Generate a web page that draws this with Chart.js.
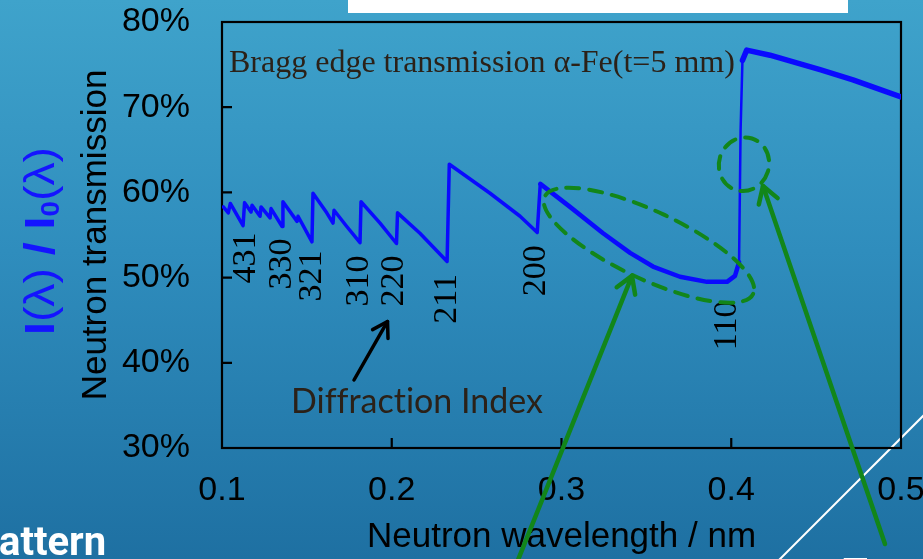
<!DOCTYPE html>
<html>
<head>
<meta charset="utf-8">
<title>Bragg edge transmission</title>
<script src="https://cdn.jsdelivr.net/npm/chart.js@4.4.1/dist/chart.umd.min.js"></script>
<style>
  html, body { margin: 0; padding: 0; }
  body {
    width: 923px; height: 559px; overflow: hidden;
    background: linear-gradient(to bottom, #3fa3cb 0%, #2f8dbd 45%, #1e70a2 100%);
  }
  #wrap { position: relative; width: 923px; height: 559px; }
</style>
</head>
<body>
<div id="wrap"><canvas id="braggChart"></canvas></div>
<script>
/* ── data ── */
const wavelength = [0.1008, 0.1037, 0.1049, 0.1124, 0.1133, 0.1171, 0.1177, 0.1224, 0.1230,
                    0.1283, 0.1289, 0.1354, 0.1359, 0.1442, 0.1448, 0.1530, 0.1536, 0.1617,
                    0.1654, 0.1660, 0.1735, 0.1813, 0.1819, 0.1931, 0.2028, 0.2034, 0.2166,
                    0.2326, 0.2339, 0.2579, 0.2756, 0.2857, 0.2875, 0.3050, 0.3245, 0.3404,
                    0.3539, 0.3698, 0.3857, 0.3975, 0.4022, 0.4046, 0.4055, 0.4066, 0.4091,
                    0.4228, 0.4523, 0.4717, 0.5000];
const transmission = [58.3, 57.6, 58.7, 56.1, 58.8, 57.7, 58.5, 57.2, 58.3,
                      57.0, 58.1, 56.0, 58.9, 56.6, 57.2, 54.2, 59.9, 57.6,
                      56.4, 57.9, 56.0, 54.1, 58.9, 56.4, 54.0, 57.6, 55.2,
                      51.9, 63.3, 59.9, 57.2, 55.3, 61.0, 58.3, 55.2, 52.9,
                      51.3, 50.1, 49.5, 49.5, 50.2, 51.8, 67.3, 75.5, 76.7,
                      76.1, 74.4, 73.2, 71.2];
const xTicks = [0.1, 0.2, 0.3, 0.4, 0.5];
const yTicks = [30, 40, 50, 60, 70, 80];
const millerIndex = ['431', '330', '321', '310', '220', '211', '200', '110'];

/* where each index label sits (nm, %) */
const LABEL_AT = [
  [0.1141, 52.3], [0.1353, 51.6], [0.1530, 50.2], [0.1807, 49.6],
  [0.2013, 49.6], [0.2325, 47.5], [0.2850, 50.8], [0.3975, 44.4],
];

const GREEN = '#12861a';
const INK   = '#2b2118';

function arrow(ctx, x0, y0, x1, y1, color, w, head) {
  ctx.save();
  ctx.strokeStyle = color; ctx.lineWidth = w; ctx.lineCap = 'round'; ctx.lineJoin = 'round';
  ctx.beginPath(); ctx.moveTo(x0, y0); ctx.lineTo(x1, y1); ctx.stroke();
  const a = Math.atan2(y1 - y0, x1 - x0);
  ctx.beginPath();
  ctx.moveTo(x1 - head * Math.cos(a - 0.55), y1 - head * Math.sin(a - 0.55));
  ctx.lineTo(x1, y1);
  ctx.lineTo(x1 - head * Math.cos(a + 0.55), y1 - head * Math.sin(a + 0.55));
  ctx.stroke();
  ctx.restore();
}

function dashedEllipse(ctx, cx, cy, rx, ry, rot) {
  ctx.save();
  ctx.strokeStyle = GREEN; ctx.lineWidth = 4; ctx.lineCap = 'round';
  ctx.setLineDash([13, 10]);
  ctx.beginPath(); ctx.ellipse(cx, cy, rx, ry, rot, 0, Math.PI * 2); ctx.stroke();
  ctx.restore();
}

/* ── slide decoration, frame and annotations ── */
const decor = {
  id: 'decor',
  beforeDraw(chart) {
    const ctx = chart.ctx;
    ctx.save();
    ctx.fillStyle = '#ffffff';
    ctx.fillRect(348, 0, 500, 13);
    ctx.strokeStyle = '#ffffff'; ctx.lineWidth = 2;
    ctx.beginPath(); ctx.moveTo(777, 562); ctx.lineTo(926, 413); ctx.stroke();

    ctx.fillStyle = '#ffffff';
    ctx.font = 'bold 40px Roboto';
    ctx.textBaseline = 'alphabetic'; ctx.textAlign = 'left';
    ctx.fillText('attern', -1, 555);
    ctx.fillText('Tx', 843, 587);

    // I(λ) / I0(λ), rotated, blue
    const parts = [['I', 'bold', 0], ['(λ)', 'normal', 0], [' / ', 'bold', 0],
                   ['I', 'bold', 0], ['0', 'bold', 1], ['(λ)', 'normal', 0]];
    const size = 42;
    let total = 0;
    parts.forEach(p => {
      ctx.font = `${p[1]} ${p[2] ? size * 0.6 : size}px "Liberation Sans"`;
      total += ctx.measureText(p[0]).width;
    });
    ctx.translate(42, 241);
    ctx.rotate(-Math.PI / 2);
    ctx.scale(188 / total, 1);
    ctx.fillStyle = '#1414ff';
    ctx.textBaseline = 'middle';
    let cx = -total / 2;
    parts.forEach(p => {
      ctx.font = `${p[1]} ${p[2] ? size * 0.6 : size}px "Liberation Sans"`;
      ctx.fillText(p[0], cx, p[2] ? 10 : 0);
      cx += ctx.measureText(p[0]).width;
    });
    ctx.restore();
  },
  beforeDatasetsDraw(chart) {
    const { ctx, chartArea: a, scales: { x, y } } = chart;
    ctx.save();
    ctx.strokeStyle = '#000'; ctx.lineWidth = 2.2;
    ctx.strokeRect(a.left, a.top, a.right - a.left, a.bottom - a.top);
    ctx.beginPath();
    yTicks.slice(1, -1).forEach(v => {
      const p = y.getPixelForValue(v);
      ctx.moveTo(a.left, p); ctx.lineTo(a.left + 10, p);
    });
    xTicks.slice(1, -1).forEach(v => {
      const p = x.getPixelForValue(v);
      ctx.moveTo(p, a.bottom); ctx.lineTo(p, a.bottom - 10);
    });
    ctx.stroke();
    ctx.restore();
  },
  afterDatasetsDraw(chart) {
    const { ctx, chartArea: a, scales: { x, y } } = chart;
    ctx.save();
    ctx.fillStyle = INK;
    ctx.font = '32px "Liberation Serif"';
    ctx.textBaseline = 'alphabetic'; ctx.textAlign = 'left';
    ctx.fillText('Bragg edge transmission α-Fe(t=5 mm)', a.left + 7, a.top + 50);

    ctx.fillStyle = '#000';
    ctx.font = '34px "Liberation Serif"';
    ctx.textAlign = 'center'; ctx.textBaseline = 'middle';
    millerIndex.forEach((t, i) => {
      ctx.save();
      ctx.translate(x.getPixelForValue(LABEL_AT[i][0]), y.getPixelForValue(LABEL_AT[i][1]));
      ctx.rotate(-Math.PI / 2);
      ctx.fillText(t, 0, 0);
      ctx.restore();
    });

    dashedEllipse(ctx, x.getPixelForValue(0.3515), y.getPixelForValue(53.8), 115, 34, 0.436);
    dashedEllipse(ctx, x.getPixelForValue(0.4075), y.getPixelForValue(63.3), 25, 27, 0.3);

    arrow(ctx, 516, 565, x.getPixelForValue(0.3415), y.getPixelForValue(50.2), GREEN, 4.5, 19);
    arrow(ctx, 885, 544, x.getPixelForValue(0.4187), y.getPixelForValue(60.75), GREEN, 4.5, 19);
    arrow(ctx, 354, 380, x.getPixelForValue(0.1975), y.getPixelForValue(44.85), '#000', 3.5, 17);

    ctx.fillStyle = INK;
    ctx.font = '34px Lato';
    ctx.textAlign = 'left'; ctx.textBaseline = 'alphabetic';
    // zero-width non-joiners keep Lato from drawing its ff / ct / ti ligatures
    ctx.fillText('Dif\u200Cf\u200Crac\u200Ct\u200Cion Index', 291, 413);
    ctx.restore();
  },
};

const pts = wavelength.map((w, i) => ({ x: w, y: transmission[i] }));

new Chart(document.getElementById('braggChart'), {
  type: 'line',
  data: {
    datasets: [{
      label: 'Bragg edge transmission',
      data: pts,
      borderColor: '#0a0aff',
      borderWidth: 3.5,
      borderJoinStyle: 'round',
      borderCapStyle: 'round',
      pointRadius: 0,
      tension: 0,
      fill: false,
      segment: {
        borderWidth: ctx => {
          const x0 = ctx.p0.parsed.x;
          if (x0 >= 0.4046 && x0 < 0.406) return 2.5;
          if (x0 >= 0.406) return 5.5;
          if (x0 >= 0.287) return 4.5;
          return 3.5;
        },
      },
    }],
  },
  options: {
    responsive: true, maintainAspectRatio: false,
    animation: false,
    layout: { padding: { left: 0, top: 22, right: 22, bottom: 0 } },
    plugins: { legend: { display: false }, tooltip: { enabled: false } },
    scales: {
      x: {
        type: 'linear', min: 0.1, max: 0.5,
        afterBuildTicks: s => { s.ticks = xTicks.map(v => ({ value: v })); },
        afterFit: s => { s.height = 111; s.paddingLeft = 0; s.paddingRight = 0; },
        grid: { display: false, drawTicks: false },
        border: { display: false },
        ticks: {
          padding: 22, maxRotation: 0, autoSkip: false,
          color: '#000', font: { family: '"Liberation Sans", Arial', size: 34 },
          callback: v => Number(v).toFixed(1),
        },
        title: {
          display: true, text: 'Neutron wavelength / nm', color: '#000',
          font: { family: '"Liberation Sans", Arial', size: 35 },
          padding: { top: 0, bottom: 1 },
        },
      },
      y: {
        type: 'linear', min: 30, max: 80,
        afterBuildTicks: s => { s.ticks = yTicks.map(v => ({ value: v })); },
        afterFit: s => { s.width = 222; s.paddingTop = 0; s.paddingBottom = 0; },
        grid: { display: false, drawTicks: false },
        border: { display: false },
        ticks: {
          padding: 32, autoSkip: false,
          color: '#000', font: { family: '"Liberation Sans", Arial', size: 34 },
          callback: v => v + '%',
        },
        title: {
          display: true, text: 'Neutron transmission', color: '#000',
          font: { family: '"Liberation Sans", Arial', size: 35 },
          padding: { top: 75, bottom: 0 },
        },
      },
    },
  },
  plugins: [decor],
});
</script>
</body>
</html>
